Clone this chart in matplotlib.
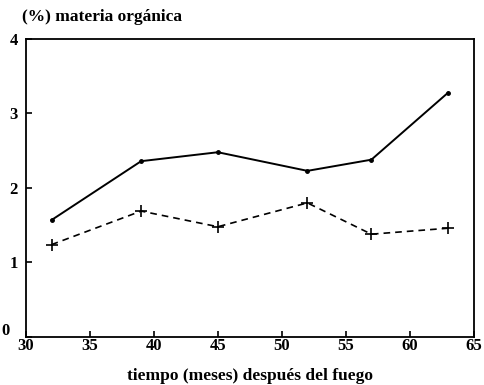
import matplotlib
matplotlib.use("Agg")
import matplotlib.pyplot as plt
from matplotlib.transforms import ScaledTranslation

meses = [32, 39, 45, 52, 57, 63]
serie_solida = [1.57, 2.36, 2.48, 2.23, 2.38, 3.28]
serie_discontinua = [1.24, 1.69, 1.48, 1.80, 1.38, 1.46]
xticks = [30, 35, 40, 45, 50, 55, 60, 65]
yticks = [0, 1, 2, 3, 4]

plt.rcParams['font.family'] = ['Liberation Serif', 'DejaVu Serif']

fig = plt.figure(figsize=(4.84, 3.85), dpi=100)
ax = fig.add_axes([0.0537, 0.1247, 0.925, 0.774])

ax.plot(meses, serie_solida, color='black', lw=1.4, marker='o', ms=2.5)
ax.plot(meses, serie_discontinua, color='black', lw=1.2, ls=(0, (4, 3)),
        marker='+', ms=9, mew=1.2)

ax.set_xlim(30, 65)
ax.set_ylim(0, 4)
ax.set_xticks(xticks)
ax.set_yticks(yticks)
ax.tick_params(direction='in', length=4, width=1.2, labelsize=12)
ax.tick_params(axis='x', pad=1)
ax.tick_params(axis='y', pad=6)
for lab in ax.get_xticklabels() + ax.get_yticklabels():
    lab.set_fontweight('bold')
# the "0" label sits above and left of the corner
zero = ax.get_yticklabels()[0]
zero.set_transform(zero.get_transform() + ScaledTranslation(-6/72, 6/72, fig.dpi_scale_trans))
for s in ax.spines.values():
    s.set_linewidth(1.3)

ax.set_xlabel('tiempo (meses) después del fuego', fontsize=12.5, fontweight='bold', labelpad=10)
fig.text(0.045, 0.955, '(%) materia orgánica', fontsize=12.5, fontweight='bold', ha='left', va='center')

fig.savefig('out.png', dpi=100)
